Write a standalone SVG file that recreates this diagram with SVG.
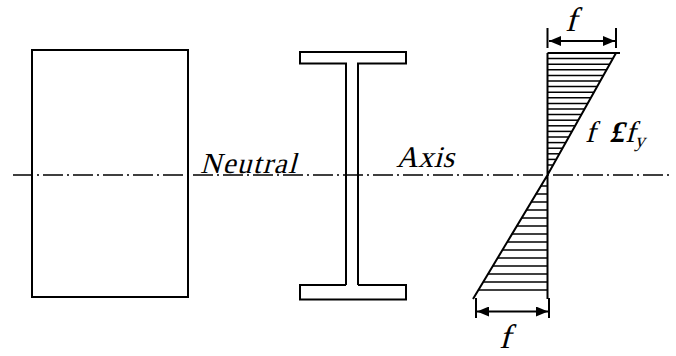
<svg xmlns="http://www.w3.org/2000/svg" width="676" height="356" viewBox="0 0 676 356">
<style>
.s{fill:none;stroke:#000;stroke-width:2}
.h{stroke:#000;stroke-width:1.5}
.ax{stroke:#000;stroke-width:1.6;stroke-dasharray:20 4 2 4}
.t{font-family:'Liberation Serif','Times New Roman',serif;fill:#000}
</style>
<defs>
<marker id="ah" viewBox="0 0 12 10" refX="12" refY="5" markerWidth="12" markerHeight="10" markerUnits="userSpaceOnUse" orient="auto-start-reverse">
<path d="M0,0 L12,5 L0,10 Z" fill="#000"/>
</marker>
</defs>
<rect width="676" height="356" fill="#fff"/>
<g id="rect-section">
<rect class="s" x="32" y="50" width="156" height="247"/>
</g>
<g id="i-section">
<path class="s" d="M346,285 V63.5 H300 V52 H406 V63.5 H358 V285"/>
<path class="s" d="M346,285 H300 V299.5 H406 V285 H358"/>
</g>
<g id="stress-diagram">
<path class="s" d="M547.5,53 V299 M547.5,53 H620 M616,53 L547.5,175 L473,299"/>
<g class="h">
<line x1="547.5" y1="58.6" x2="612.8" y2="58.6"/>
<line x1="547.5" y1="64.2" x2="609.7" y2="64.2"/>
<line x1="547.5" y1="69.8" x2="606.5" y2="69.8"/>
<line x1="547.5" y1="75.4" x2="603.3" y2="75.4"/>
<line x1="547.5" y1="81" x2="600.2" y2="81"/>
<line x1="547.5" y1="86.6" x2="597" y2="86.6"/>
<line x1="547.5" y1="92.2" x2="593.8" y2="92.2"/>
<line x1="547.5" y1="97.8" x2="590.7" y2="97.8"/>
<line x1="547.5" y1="103.4" x2="587.5" y2="103.4"/>
<line x1="547.5" y1="109" x2="584.3" y2="109"/>
<line x1="547.5" y1="114.6" x2="581.2" y2="114.6"/>
<line x1="547.5" y1="120.2" x2="578" y2="120.2"/>
<line x1="547.5" y1="125.8" x2="574.8" y2="125.8"/>
<line x1="547.5" y1="131.4" x2="571.7" y2="131.4"/>
<line x1="547.5" y1="137" x2="568.5" y2="137"/>
<line x1="547.5" y1="142.6" x2="565.3" y2="142.6"/>
<line x1="547.5" y1="148.2" x2="562.2" y2="148.2"/>
<line x1="547.5" y1="153.8" x2="559" y2="153.8"/>
<line x1="547.5" y1="159.4" x2="555.8" y2="159.4"/>
<line x1="547.5" y1="165" x2="552.7" y2="165"/>
<line x1="547.5" y1="186" x2="540.4" y2="186"/>
<line x1="547.5" y1="194" x2="535.7" y2="194"/>
<line x1="547.5" y1="202" x2="530.9" y2="202"/>
<line x1="547.5" y1="210" x2="526.1" y2="210"/>
<line x1="547.5" y1="218" x2="521.3" y2="218"/>
<line x1="547.5" y1="226" x2="516.6" y2="226"/>
<line x1="547.5" y1="234" x2="511.8" y2="234"/>
<line x1="547.5" y1="242" x2="507" y2="242"/>
<line x1="547.5" y1="250" x2="502.2" y2="250"/>
<line x1="547.5" y1="258" x2="497.5" y2="258"/>
<line x1="547.5" y1="266" x2="492.7" y2="266"/>
<line x1="547.5" y1="274" x2="487.9" y2="274"/>
<line x1="547.5" y1="282" x2="483.1" y2="282"/>
<line x1="547.5" y1="290" x2="478.4" y2="290"/>
</g>
</g>
<g id="connectors">
<line class="ax" x1="13" y1="175" x2="672" y2="175"/>
<path class="s" d="M547.5,28 V48 M616,28 V48 M476,298 V318 M549,298 V318"/>
<line class="s" x1="549" y1="41" x2="615" y2="41" marker-start="url(#ah)" marker-end="url(#ah)"/>
<line class="s" x1="477" y1="311.5" x2="548" y2="311.5" marker-start="url(#ah)" marker-end="url(#ah)"/>
</g>
<g id="labels">
<text class="t" transform="translate(200,173) skewX(-15)" font-size="29" textLength="96">Neutral</text>
<text class="t" transform="translate(396,167) skewX(-15)" font-size="30" textLength="58">Axis</text>
<text class="t" transform="translate(565,31) skewX(-15)" font-size="34">f</text>
<text class="t" transform="translate(499,348) skewX(-15)" font-size="34">f</text>
<text class="t" transform="translate(585,142) skewX(-15)" font-size="30">f<tspan dx="14" font-weight="bold">£</tspan><tspan dx="1">f</tspan><tspan font-size="20" dx="1" dy="5">y</tspan></text>
</g>
</svg>
